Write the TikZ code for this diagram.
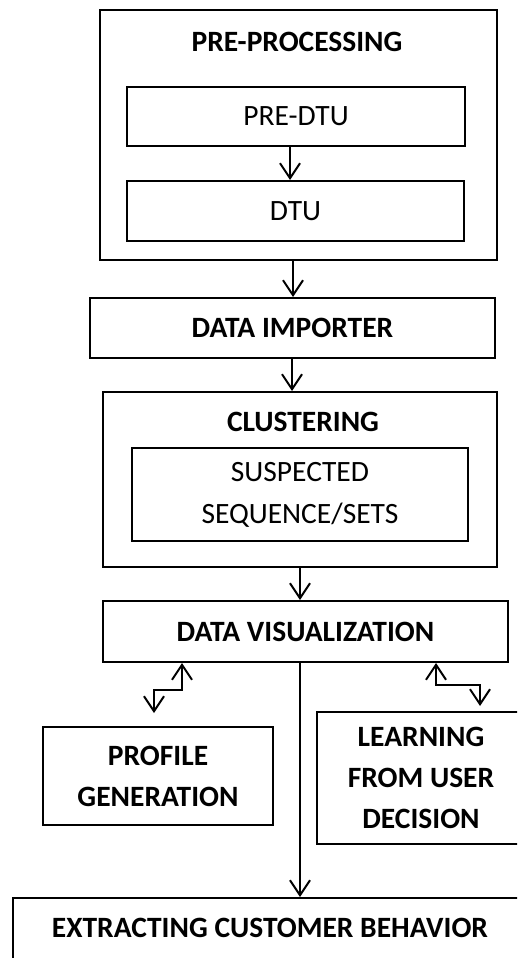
\documentclass[tikz,border=0pt]{standalone}
\usepackage{fontspec}
\setmainfont{Carlito}
\usetikzlibrary{arrows.meta}
\begin{document}
\begin{tikzpicture}[x=1pt,y=-1pt,
  box/.style={draw, line width=2pt, rectangle, inner sep=0pt, align=center},
  btext/.style={font=\fontsize{29.5}{41}\selectfont\bfseries, align=center, inner sep=0pt},
  rtext/.style={font=\fontsize{29.5}{42}\selectfont, align=center, inner sep=0pt},
  flow/.style={line width=2pt, -{Straight Barb[length=15pt,width=20pt,line width=2pt]}},
  biflow/.style={line width=2pt, {Straight Barb[length=15pt,width=20pt,line width=2pt]}-{Straight Barb[length=15pt,width=20pt,line width=2pt]}}]
\useasboundingbox (0,0) rectangle (517,958);
\clip (0,0) rectangle (517,958);
% pre-processing group
\node[box, minimum width=397pt, minimum height=250pt] (pre) at (298.5,135) {};
\node[btext] (pret) at (297,42) {PRE-PROCESSING};
\node[box, rtext, minimum width=338pt, minimum height=59pt] (pdtu) at (296,116.5) {PRE-DTU};
\node[box, rtext, minimum width=337pt, minimum height=60pt] (dtu) at (295.5,211) {DTU};
% importer
\node[box, btext, minimum width=405pt, minimum height=60pt] (imp) at (292.5,328) {DATA IMPORTER};
% clustering group
\node[box, minimum width=394pt, minimum height=175pt] (clu) at (300,479.5) {};
\node[btext] (clut) at (303,422) {CLUSTERING};
\node[box, rtext, minimum width=336pt, minimum height=93pt] (sus) at (300,494.5) {SUSPECTED\\SEQUENCE/SETS};
% visualization
\node[box, btext, minimum width=405pt, minimum height=61pt] (dv) at (305.5,631.5) {DATA VISUALIZATION};
% side boxes
\node[box, btext, minimum width=230pt, minimum height=98pt] (prof) at (158,776) {PROFILE\\GENERATION};
\node[box, btext, minimum width=208pt, minimum height=132pt] (learn) at (421,778) {LEARNING\\FROM USER\\DECISION};
% extracting
\node[box, minimum width=515pt, minimum height=62pt] (ext) at (270.5,929) {};
\node[btext] (extt) at (270,928) {EXTRACTING CUSTOMER BEHAVIOR};
% arrows
\draw[flow] ([xshift=-6pt]pdtu.south) -- ([xshift=-6pt]pdtu.south |- dtu.north);
\draw[flow] ([xshift=-5.5pt]pre.south) -- ([xshift=-5.5pt]pre.south |- imp.north);
\draw[flow] ([xshift=-0.5pt]imp.south) -- ([xshift=-0.5pt]imp.south |- clu.north);
\draw[flow] (clu.south) -- (clu.south |- dv.north);
\draw[flow] ([xshift=-5.5pt]dv.south) -- ([xshift=-5.5pt]dv.south |- ext.north);
% zigzag double arrows
\coordinate (lz1) at (182,663);
\coordinate (lz2) at (154,713);
\draw[biflow] (lz1) -- (182,690) -- (154,690) -- (lz2);
\coordinate (rz1) at (436,663);
\coordinate (rz2) at (480,706);
\draw[biflow] (rz1) -- (436,685) -- (480,685) -- (rz2);
\end{tikzpicture}
\end{document}
